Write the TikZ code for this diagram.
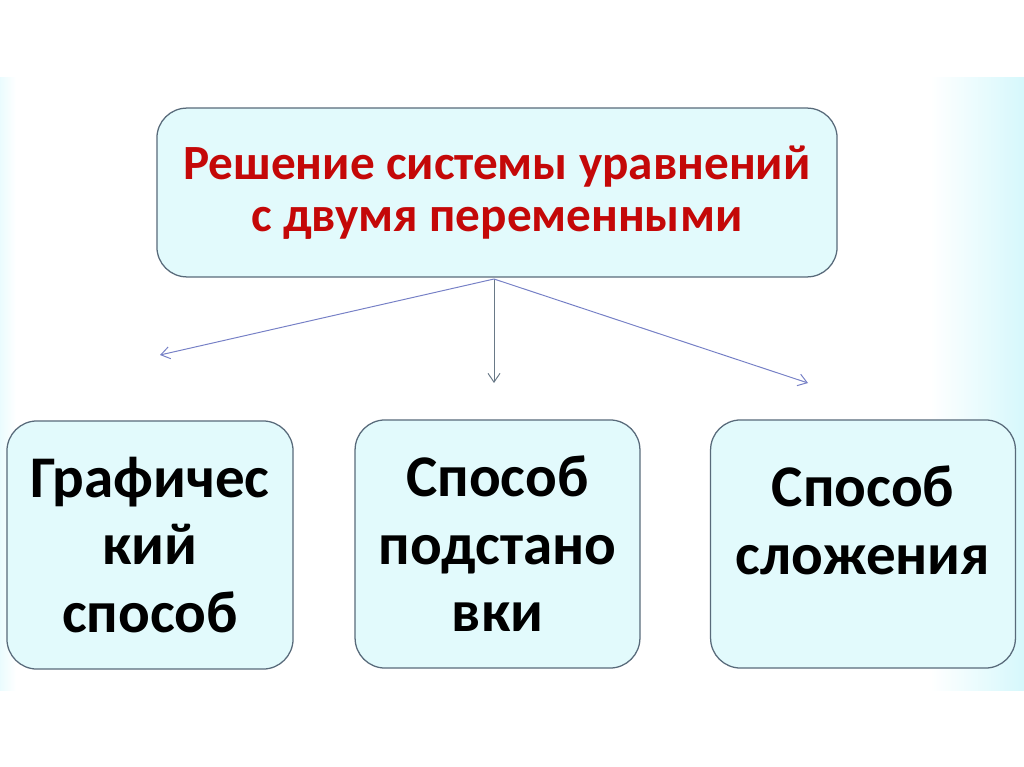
\documentclass[tikz,border=0pt]{standalone}
\usepackage{fontspec}
\setmainfont{Carlito}
\usepackage{xcolor}
\usetikzlibrary{arrows.meta,positioning,calc}
\definecolor{boxfill}{RGB}{226,250,252}
\definecolor{boxline}{RGB}{88,106,122}
\definecolor{arrowblue}{RGB}{118,128,198}
\definecolor{titlered}{RGB}{196,8,8}
\definecolor{edgecyan}{RGB}{214,248,252}

\begin{document}
\begin{tikzpicture}[x=0.025cm, y=-0.025cm,
  box/.style={draw=boxline, line width=0.9pt, rounded corners=0.75cm, fill=boxfill, align=center, inner sep=0pt},
  titlebox/.style={box, minimum width=17cm, minimum height=4.22cm, text=titlered, font=\bfseries\fontsize{35}{37}\selectfont},
  waybox/.style={box, minimum height=6.2cm, font=\bfseries\fontsize{42}{48}\selectfont},
  link/.style={-{Straight Barb[length=2.2mm,width=3mm]}, arrowblue, line width=0.7pt}]
\useasboundingbox (0,0) rectangle (1024,767);
% faint background band at the edges
\shade[left color=white, right color=edgecyan] (930,78) rectangle (1024,690);
\shade[left color=edgecyan!50, right color=white] (0,78) rectangle (16,690);
% boxes
\node[titlebox] (system) at (497,192.5) {Решение системы уравнений\\с двумя переменными};
\node[waybox, minimum width=7.15cm] (graph) at (150,545) {Графичес\\кий\\способ};
\node[waybox, minimum width=7.12cm] (subst) at (497.5,544) {Способ\\подстано\\вки};
\node[waybox, minimum width=7.62cm] (add) at (863,544) {Способ\\сложения\\[-0.5cm]};
% arrow ends above the lower boxes
\coordinate (tipgraph) at (160,355);
\coordinate (tipsubst) at (494,383);
\coordinate (tipadd) at (808,383);
\coordinate (root) at (494,279);
\draw[link] (root) -- (tipgraph);
\draw[link, boxline!90] (root) -- (tipsubst);
\draw[link] (root) -- (tipadd);
\end{tikzpicture}
\end{document}
